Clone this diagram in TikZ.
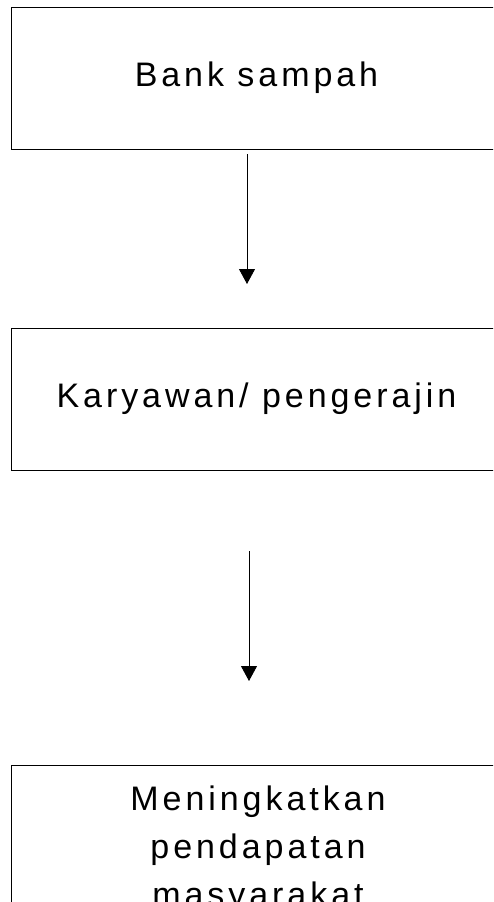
\documentclass[tikz,border=0pt]{standalone}
\usepackage{fontspec}
\setmainfont{Liberation Sans}[LetterSpace=11.6]
\usetikzlibrary{arrows.meta}
\begin{document}
\begin{tikzpicture}[x=1pt,y=1pt,
  boxnode/.style={draw=black, line width=1pt, rectangle, inner sep=0pt,
    minimum width=491pt, font=\fontsize{34}{48}\selectfont},
  flowarrow/.style={draw=black, line width=0.9pt, -{Triangle[width=16pt,length=15pt]}},
  label/.style={inner sep=0pt, align=center, font=\fontsize{34}{48}\selectfont}]
\useasboundingbox (0,0) rectangle (493,-902);
\begin{scope}
\clip (0,0) rectangle (493,-902);
\node[boxnode, minimum height=142pt] (a) at (256.5,-78) {Bank sampah};
\node[boxnode, minimum height=142pt] (b) at (256.5,-399) {Karyawan/ pengerajin};
\node[boxnode, minimum height=300pt, anchor=north] (c) at (256.5,-765) {};
\node[label, anchor=north] (ct) at (258,-785.6) {Meningkatkan\\pendapatan\\masyarakat};
\end{scope}
\coordinate (a1) at (247,-154);
\coordinate (a2) at (247,-284);
\coordinate (b1) at (249,-551);
\coordinate (b2) at (249,-681);
\draw[flowarrow] (a1) -- (a2);
\draw[flowarrow] (b1) -- (b2);
\end{tikzpicture}
\end{document}
